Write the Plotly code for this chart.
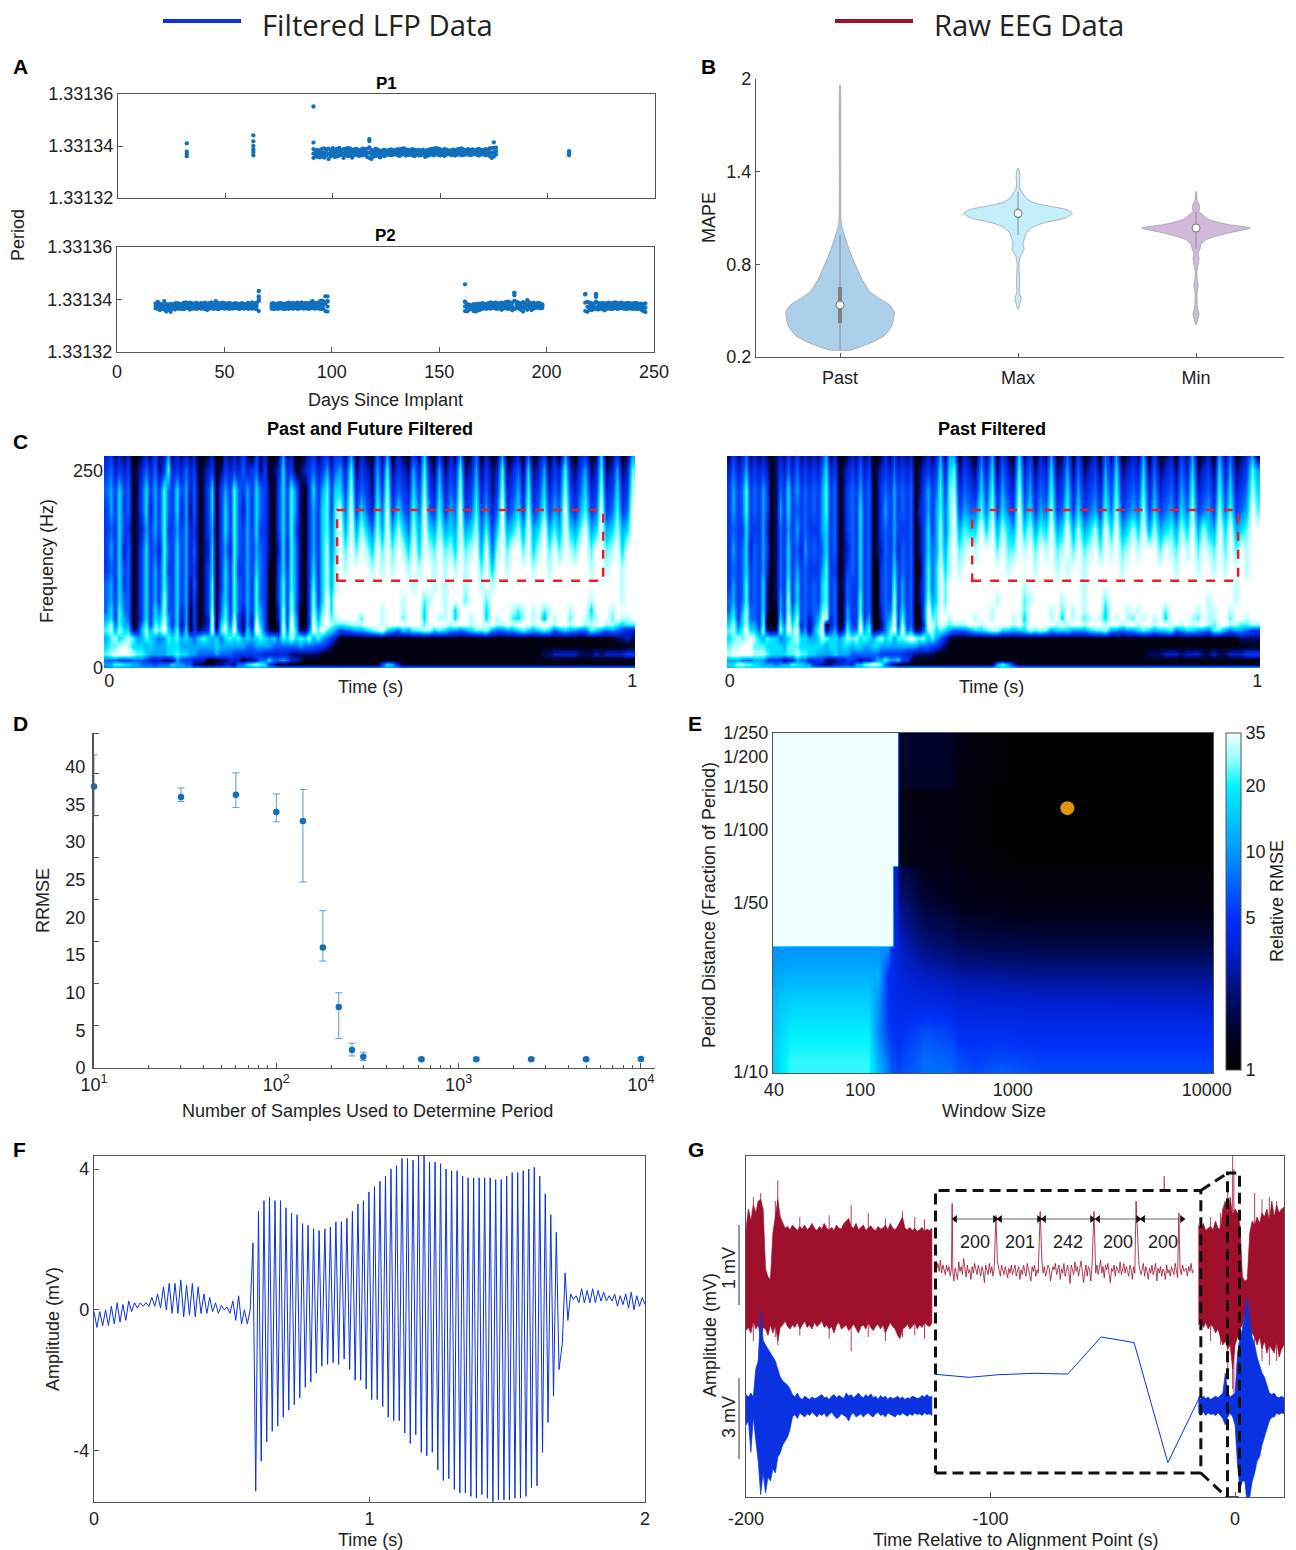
import math
import plotly.graph_objects as go

W, H = 1296, 1550
FONT = "Liberation Sans"
TXT = "#222222"
AXC = "#555555"
DOT = "#1170bd"
BLUE = "#0a32e0"
RED = "#9e102c"

# ---------- Panel A (offsets from 1.33134 in units of 1e-6)
A_base = 1.33134
P1_days = list(range(91, 177))
P1_hi = [-1.2,-1.8,-1.5,-1.9,-1.1,-0.9,-1.3,-1.0,-1.7,-0.8,-1.4,-1.1,-0.7,-1.6,-1.2,-1.0,-0.8,-0.9,-1.5,-1.3,-1.1,-1.6,-1.4,-1.0,-1.2,-1.1,-0.5,-1.5,-1.8,-1.0,-1.4,-2.0,-1.7,-1.5,-1.9,-1.6,-1.3,-1.5,-1.8,-1.2,-1.4,-1.1,-0.9,-1.3,-1.5,-1.6,-1.2,-1.4,-1.7,-1.5,-1.8,-1.4,-1.9,-1.6,-1.3,-1.2,-1.0,-0.8,-0.9,-1.3,-1.6,-1.2,-1.5,-1.8,-1.7,-1.4,-1.6,-1.3,-1.1,-0.9,-1.4,-1.6,-1.2,-1.5,-1.3,-1.7,-1.4,-1.1,-1.5,-1.6,-1.2,-1.4,-0.9,-0.8,-0.7,-0.6]
P1_lo = [-4.6,-3.9,-4.2,-4.4,-3.8,-4.5,-3.6,-5.0,-4.1,-3.5,-4.2,-4.0,-3.7,-3.4,-4.6,-3.5,-3.9,-3.6,-4.5,-3.5,-3.3,-3.8,-3.7,-3.6,-3.4,-4.2,-4.6,-5.0,-4.1,-3.8,-3.7,-4.4,-3.6,-3.9,-3.5,-3.3,-3.6,-3.4,-3.2,-3.5,-3.8,-3.4,-3.1,-3.7,-3.5,-3.3,-3.6,-3.9,-3.4,-3.7,-3.5,-3.3,-4.2,-3.8,-3.5,-3.3,-3.6,-3.2,-3.4,-3.7,-3.5,-3.8,-3.3,-3.1,-3.5,-3.4,-3.7,-3.3,-3.2,-3.6,-3.4,-3.3,-3.2,-3.6,-3.3,-3.1,-3.4,-3.7,-3.3,-3.2,-3.6,-3.4,-3.8,-4.6,-4.0,-3.3]
P1_extra_days = [32,32,32,32,63,63,63,63,63,63,91,91,117,117,175,210,210,210]
P1_extra_vals = [1,-2.2,-3,-3.9,4.1,1.8,0,-1.3,-2.3,-3.6,15.2,1.3,2.6,1.9,1.4,-2,-2.8,-3.6]

P2_days = list(range(18,67)) + list(range(72,99)) + list(range(162,199)) + list(range(218,247))
P2_hi = [-1.5,-0.9,-1.6,-1.9,-0.6,-1.8,-2.0,-1.7,-1.9,-1.5,-1.4,-1.6,-1.8,-1.3,-1.1,-1.4,-1.2,-1.5,-1.6,-1.3,-1.7,-1.4,-1.5,-1.2,-1.7,-1.4,-1.1,-1.5,-0.6,-1.3,-1.6,-1.2,-1.4,-1.6,-1.3,-1.5,-1.7,-1.4,-1.6,-1.8,-1.4,-1.6,-1.9,-1.3,-1.5,-1.1,-1.6,-1.2,3.2,
       -1.6,-1.4,-1.8,-1.5,-1.3,-1.6,-1.7,-1.4,-1.2,-1.5,-1.3,-1.6,-1.2,-1.4,-1.1,-1.6,-1.3,-1.5,-1.2,-0.6,-1.3,-1.5,-1.0,-0.4,-0.6,1.2,-0.8,
       -0.9,-1.8,-2.0,-2.2,-1.8,-1.9,-1.6,-1.8,-1.4,-1.6,-1.7,-1.4,-1.1,-1.5,-1.2,-1.3,-1.6,-1.2,-1.4,-1.0,-0.8,-1.1,-1.3,2.5,-0.9,-1.2,-1.6,-1.0,-1.3,-0.2,-1.1,-1.6,-1.2,-1.7,-1.3,-1.5,-1.9,
       2.0,-0.9,-1.2,-1.5,-1.6,2.0,-1.4,-1.5,-1.3,-1.6,-1.4,-1.2,-1.5,-1.3,-1.1,-1.4,-1.3,-1.2,-1.6,-1.4,-1.3,-1.5,-1.6,-1.3,-1.4,-1.7,-1.6,-1.8,-1.5]
P2_lo = [-3.4,-3.6,-4.0,-3.5,-3.8,-4.6,-3.9,-4.7,-3.5,-3.8,-3.4,-3.6,-3.5,-3.7,-3.4,-3.3,-3.8,-3.5,-3.4,-3.6,-3.3,-3.5,-3.4,-3.7,-4.0,-3.5,-3.3,-3.6,-3.4,-3.7,-3.4,-3.2,-3.5,-3.3,-3.6,-3.4,-3.5,-3.2,-3.4,-3.6,-3.3,-3.5,-3.3,-3.6,-3.4,-3.5,-3.3,-3.7,-4.4,
       -3.5,-3.7,-3.4,-3.6,-3.3,-3.5,-3.7,-3.4,-3.6,-3.3,-3.5,-3.2,-3.6,-3.4,-3.2,-3.5,-3.3,-3.6,-3.4,-3.2,-3.5,-3.3,-3.5,-3.7,-3.4,-4.4,-4.6,
       -4.4,-4.5,-3.8,-3.5,-4.4,-4.6,-4.2,-3.9,-3.6,-3.4,-3.6,-3.3,-3.5,-3.2,-3.4,-3.6,-3.4,-3.9,-3.5,-3.3,-3.6,-3.4,-4.1,-3.6,-3.3,-3.5,-3.9,-4.6,-3.4,-3.9,-3.3,-4.0,-3.5,-3.2,-3.0,-3.4,-3.2,
       -4.4,-4.7,-3.9,-4.0,-3.7,-3.6,-3.8,-3.5,-3.7,-4.1,-3.6,-3.4,-3.7,-3.5,-3.3,-3.6,-3.4,-3.3,-3.5,-3.7,-3.5,-3.4,-3.6,-3.4,-3.7,-3.5,-3.9,-4.4,-4.8]
P2_extra_days = [66,66,66,98,98,162,162,185,185,218,223,223]
P2_extra_vals = [3.2,1.2,0.2,1.2,-0.5,5.8,-0.8,2.5,1.6,2.0,2.0,1.0]

# ---------- Panel B (half widths in category units)
B_names = ["Past", "Max", "Min"]
B_past_y = [0.245,0.26,0.30,0.34,0.40,0.45,0.485,0.53,0.57,0.62,0.70,0.80,0.90,1.00,1.05,1.10,1.40,1.96]
B_past_w = [0.06,0.10,0.19,0.25,0.29,0.30,0.305,0.285,0.235,0.17,0.125,0.085,0.05,0.022,0.009,0.005,0.004,0.001]
B_max_y = [0.51,0.55,0.58,0.62,0.70,0.80,0.85,0.90,0.93,0.96,1.00,1.04,1.07,1.10,1.13,1.155,1.18,1.20,1.23,1.27,1.29,1.33,1.37,1.40,1.42]
B_max_w = [0.002,0.012,0.017,0.007,0.009,0.005,0.012,0.034,0.028,0.034,0.045,0.08,0.15,0.265,0.305,0.27,0.16,0.085,0.045,0.022,0.011,0.009,0.011,0.007,0.001]
B_min_y = [0.41,0.45,0.48,0.51,0.55,0.62,0.66,0.72,0.76,0.80,0.84,0.87,0.90,0.93,0.96,1.00,1.035,1.06,1.09,1.12,1.14,1.16,1.19,1.21,1.27]
B_min_w = [0.001,0.012,0.017,0.009,0.006,0.006,0.012,0.005,0.005,0.012,0.017,0.012,0.022,0.028,0.057,0.17,0.305,0.17,0.073,0.04,0.017,0.02,0.017,0.006,0.002]
B_med = [0.537,1.13,1.035]
B_q1 = [0.42,1.10,1.02]
B_q3 = [0.653,1.16,1.05]
B_wlo = [0.245,0.99,0.90]
B_whi = [0.99,1.27,1.14]
B_cols = ["#add0ea","#c4eefa","#d2b9dc"]

# ---------- Panel C (colour levels 0-9: 53 early columns, then 57 late columns)
C_freq = [267,249,224,199,174,149,123,105,86,73,63,55,48,38,28,18,10,5,0]
C_split = [0.44, 0.42]
C1_rows = [
"2312120012 1312512121 2001200212 1310312001 5120012312 313 3150210415 0210316103 0215014020 1501204013 0205102301 6013015",
"3423230124 2413723242 3012301323 2423413012 6230123423 524 5271321527 1321527215 1327125131 2712416125 1327213512 7125127",
"4536340136 3537436352 4013603537 4353643103 6374103635 736 6382431638 2432638326 2438236241 3823527236 2438324623 8236238",
"3536340136 2537436251 4013603637 4253643103 6374103536 737 8493642749 3643749437 3549347352 4934638347 3549435734 9347349",
"3436330125 3537335352 3013503637 4353633103 6373103536 747 9595864859 5864859658 5659568473 6956859569 5759657956 9568569",
"3536240136 3427436352 4012603527 4353543102 6274103536 847 9797986979 7986969879 7869789594 8979979689 7979879979 9789699",
"3436340136 3537336352 3013603637 3353643003 6374103636 858 9899998989 8998989989 8989899796 9989999899 8999999989 9899899",
"4536340136 3537436351 4013703637 4353743003 7374103736 858 9999999999 9999899989 8999899898 9999999999 9999999999 9999899",
"4536440136 3538436351 3013704637 4353743003 7384103836 969 9999999999 9989997899 8999799979 9999999999 9999999989 9999899",
"4637440136 3648436250 3013804737 4253753002 8384003847 969 9999999989 9989996999 8969999969 9998789897 8999899969 9989999",
"5637540136 3658536250 3012905738 3152853002 8395003958 978 9999799989 9979996998 8969989969 8997689895 9899799878 9979889",
"6847550147 3769536150 3012906849 3152963001 9395003968 987 7788899989 9999997999 9899989989 8898999899 9899899889 9887677",
"7858661258 5879647260 3123917859 4163973101 9496114979 765 3445567896 5465778867 6554567785 4455676567 6456554476 5454322",
"5786787557 6545767565 4676564676 7565676564 7686768575 432 0000000000 0000000000 0000000000 0000000000 0000000000 0001121",
"6778986665 6555666555 5555565555 5544555544 4444544433 210 0000000000 0000000000 0000000000 0000000000 0000000000 0000000",
"7899998776 5555667665 5444454443 3333332222 2211111110 000 0000000000 0000000000 0000000000 0000000001 1222221112 1222233",
"4443334443 2221115333 2220001122 2011244644 5422100000 000 0000000000 0000000000 0000000000 0000000000 0000000000 0000000",
"5577665544 4344465544 1100011221 4467876320 0000000000 000 0000000036 5200000000 0000000000 0000000000 0000000000 0000000",
"4555555555 5555555555 5555555555 5555555555 5555555555 555 5555555555 5555555555 5555555555 5555555555 5555555555 5555555",
]
C2_rows = [
"1312412121 0121313121 2135120012 1312001213 1212001212 515 5021041503 1061302150 1403012041 5012150301 2031501205 1401251",
"2423523232 0132424232 3246230123 2423012324 2323012323 626 7132152614 2172413261 2514123152 6123261412 3142612316 2512375",
"3534734353 0143635343 4357340134 3534013435 3434013534 737 8243263725 3283524372 3625234263 7234372523 4253723427 3623486",
"3534734353 0153634343 4357340134 3634013535 3434023535 747 9354474836 4394635483 4736345374 8345483634 5364834538 4734597",
"3433633352 0143535343 3356340134 3634013435 3334013635 847 9576696958 6596857695 6958568596 9568695856 7586958659 6956799",
"3534624353 0143634253 4346340124 3634012435 2434013645 858 9789899979 7798979897 8979789798 9789899979 8798979879 7979899",
"3434634352 0143635343 3357330134 3634003436 3434003746 968 9899999999 8999989998 9899899999 9899999999 9899989989 8999899",
"3534734361 0143736343 4367340143 3634003437 3534013746 979 9999999999 9998999999 9999899999 9999999999 9999999999 9989999",
"4534734361 0153836343 4367340143 3734003438 3534013856 979 9999999989 9997899999 8999899979 9999999999 9999999899 9989999",
"4635844361 0053847343 4478340153 3734002448 3634003967 989 9999999899 9997999989 7989899969 9989899997 9999989889 9899999",
"5736844370 0063958342 4589240153 3835002459 3734003977 998 9999899899 9896999989 6989789869 8987989896 9999879889 9799899",
"6846855370 0074968241 4690240163 3946001469 3834002987 987 8889989999 9897999998 9899899989 9899899899 8989899879 9887788",
"7857966481 1185979351 5791351274 4957112479 4945113886 765 4445667886 6566878756 6655567785 5455676566 7456655477 5455433",
"6787898657 6645678665 5687665687 8676578675 7789878575 421 0000000000 0000000000 0000000000 0000000000 0000000000 0001111",
"7889997776 6665777666 6665665665 6655665555 5555544433 210 0000000000 0000000000 0000000000 0000000000 0000000000 0000000",
"8999998887 6666778776 6555565554 4444443333 3322111110 000 0000000000 0000000000 0000000000 0000001112 2212221121 1222333",
"5554445553 3331225442 3331112233 2122355755 6331000000 000 0000000000 0000000000 0000000000 0000000000 0000000000 0000000",
"6688776655 5455576655 2211122332 5578987421 0000000000 000 0000000057 5200000000 0000000000 0000000000 0000000000 0000000",
"5666666666 6666666666 6666666666 6666666666 6666666666 666 6666666666 6666666666 6666666666 6666666666 6666666666 6666666",
]
C_levels = [(0,"#000010"),(0.11,"#000a60"),(0.22,"#0020d0"),(0.33,"#0038f0"),(0.44,"#0060ff"),(0.55,"#00a8ff"),(0.7,"#00f0ff"),(0.85,"#a0ffff"),(1,"#ffffff")]

# ---------- Panel D
D_n = [10,30,60,100,140,180,220,260,300,625,1250,2500,5000,10000]
D_y = [37.4,36.0,36.3,34.0,32.8,16.0,8.1,2.4,1.5,1.15,1.15,1.15,1.15,1.2]
D_hi = [41.6,37.2,39.2,36.4,37.0,20.9,10.0,3.3,2.1,1.35,1.35,1.35,1.35,1.4]
D_lo = [33.5,35.4,34.6,32.7,24.7,14.2,3.9,1.6,1.0,1.0,1.0,1.0,1.0,1.0]
D_tick_marks = [5.585,11.17,16.755,22.34,27.925,33.51,39.095,44.5]

# ---------- Panel E
E_x_pos = [0,.039,.216,.239,.261,.27,.275,.282,.286,.345,.402,.42,.459,.516,.607,1]
E_y_pos = [0,.038,.126,.215,.288,.371,.376,.509,.606,.612,.656,.832,.841,1]
E_rmse = [
[15,22,22,13,8,6.5,6.5,6,6,7.5,7.5,6.5,6,7,6,6],
[15,22,22,12,7.5,6,6,5.5,5.5,7.5,7,6,5.5,6,5.5,5.5],
[14,19,19,9,5.5,5,5,4.8,4.8,6,5.5,4.6,4.6,4.6,4.4,4.4],
[13,15,15,10,5,4.6,4.5,4.3,4.2,4.0,3.8,3.6,3.6,3.5,3.4,3.3],
[11,12,12,12,5,4.6,4.4,4,3.8,3.2,3.0,2.8,2.8,2.7,2.6,2.6],
[9.5,9.5,9.5,9.5,9.5,4.3,4.2,4,3.4,2.4,2.1,2.0,1.9,1.85,1.8,1.8],
[35,35,35,35,35,35,4.2,4,3.4,2.3,2.1,1.9,1.85,1.8,1.75,1.75],
[35,35,35,35,35,35,3.8,3.8,2.4,1.6,1.45,1.35,1.3,1.25,1.2,1.2],
[35,35,35,35,35,35,3.4,3.4,1.9,1.35,1.3,1.25,1.15,1.1,1.08,1.08],
[35,35,35,35,35,35,35,35,1.3,1.3,1.25,1.2,1.12,1.08,1.05,1.05],
[35,35,35,35,35,35,35,35,1.25,1.25,1.2,1.15,1.1,1.05,1.03,1.03],
[35,35,35,35,35,35,35,35,1.25,1.22,1.2,1.15,1.08,1.03,1,1],
[35,35,35,35,35,35,35,35,1.5,1.5,1.5,1.2,1.12,1.05,1,1],
[35,35,35,35,35,35,35,35,1.55,1.55,1.55,1.25,1.15,1.05,1,1],
]
E_cb_ticks = [1,5,10,20,35]
E_best = (.669, .779)

# ---------- Panel F
F_pre = [-0.05,-0.5,-0.05,-0.45,0,-0.45,0.1,-0.4,0.2,-0.35,0.15,-0.3,0.25,-0.05,0.2,0.05,0.2,0.1,0.2,0.1,0.35,0.1,0.45,0.05,0.65,0,0.75,-0.1,0.75,-0.1,0.85,-0.2,0.7,-0.15,0.75,-0.2,0.65,-0.1,0.45,-0.1,0.35,-0.05,0.2,-0.1,0.12,0,0.08,-0.1,0.25,-0.3,0.4,-0.4,0,-0.4,0]
F_pre_step = 0.0105
F_peak_t = [0.577,0.597,0.617,0.637,0.657,0.677,0.697,0.717,0.737,0.757,0.777,0.797,0.817,0.838,0.858,0.878,0.898,0.918,0.938,0.958,0.978,0.998,1.018,1.038,1.058,1.078,1.098,1.118,1.138,1.158,1.178,1.198,1.218,1.238,1.258,1.278,1.298,1.318,1.338,1.358,1.378,1.398,1.418,1.438,1.458,1.478,1.498,1.518,1.538,1.558,1.578,1.598,1.618,1.638,1.658,1.678]
F_peak = [1.9,2.8,3.1,3.2,3.1,3.1,2.9,2.75,2.7,2.45,2.4,2.3,2.25,2.3,2.35,2.5,2.5,2.6,2.8,3.0,3.1,3.35,3.5,3.65,3.8,4.0,4.1,4.3,4.3,4.25,4.4,4.4,4.2,4.2,4.15,4.0,3.95,3.95,3.8,3.75,3.75,3.75,3.75,3.75,3.7,3.7,3.8,3.9,3.9,3.95,4.0,4.05,3.8,3.3,2.7,2.2]
F_trough = [-5.15,-4.3,-3.75,-3.45,-3.3,-3.05,-2.85,-2.7,-2.5,-2.2,-2.05,-1.8,-1.6,-1.55,-1.5,-1.55,-1.4,-1.7,-2,-2,-2.25,-2.55,-2.55,-2.75,-3.05,-3.15,-3.15,-3.5,-3.8,-3.55,-4.05,-4.15,-4.05,-4.55,-4.85,-4.8,-5.1,-5.2,-5.2,-5.3,-5.35,-5.25,-5.35,-5.45,-5.4,-5.4,-5.4,-5.35,-5.35,-5.3,-5.05,-5,-4.05,-3.2,-2.45,-1.7]
F_post_t = [1.70,1.71,1.72,1.73,1.74,1.75,1.76,1.77,1.78,1.79,1.80,1.81,1.82,1.83,1.84,1.85,1.86,1.87,1.88,1.89,1.90,1.91,1.92,1.93,1.94,1.95,1.96,1.97,1.98,1.99,2.00]
F_post = [-0.95,1.05,-0.3,0.45,0.3,0.4,0.2,0.6,0.2,0.55,0.2,0.6,0.2,0.55,0.25,0.5,0.25,0.4,0.25,0.45,0.1,0.4,0.15,0.45,0.05,0.5,0,0.4,0.1,0.35,0.15]

# ---------- Panel G (y in arbitrary offset units)
G_left_x = list(range(-200,-123))
G_rL_hi = [3.35,3.6,3.45,3.65,3.55,3.7,3.72,3.6,2.85,2.75,2.72,3.3,3.5,3.72,3.5,3.42,3.36,3.38,3.34,3.4,3.36,3.33,3.38,3.35,3.4,3.34,3.37,3.42,3.36,3.33,3.38,3.35,3.42,3.36,3.34,3.37,3.33,3.4,3.36,3.35,3.42,3.45,3.48,3.38,3.36,3.42,3.34,3.37,3.4,3.33,3.36,3.39,3.35,3.33,3.38,3.35,3.36,3.4,3.34,3.42,3.36,3.34,3.38,3.45,3.5,3.36,3.34,3.37,3.33,3.36,3.32,3.34,3.37,3.32,3.35,3.33,3.36]
G_rL_lo = [2.08,2.12,2.05,2.2,2.1,2.15,2.0,2.12,2.1,2.02,2.15,2.05,2.15,1.95,2.12,2.15,2.2,2.13,2.1,2.15,2.12,2.18,2.1,2.15,2.2,2.12,2.15,2.1,2.18,2.13,2.16,2.2,2.12,2.15,2.1,2.13,2.05,2.15,2.18,2.1,2.13,2.15,2.08,2.12,2.16,2.1,2.05,2.13,2.15,2.1,2.18,2.12,2.08,2.13,2.16,2.1,2.15,2.05,2.12,2.18,2.13,2.1,2.02,1.98,2.1,2.12,2.16,2.1,2.13,2.18,2.1,2.15,2.12,2.18,2.15,2.13,2.17]
G_right_x = list(range(-15,21))
G_rR_hi = [3.4,3.35,3.42,3.33,3.36,3.38,3.34,3.45,3.36,3.35,3.6,3.7,3.55,3.75,3.5,3.6,3.55,3.4,2.75,2.7,2.72,3.3,3.45,3.4,3.5,3.42,3.55,3.5,3.6,3.45,3.7,3.5,3.65,3.55,3.6,3.62]
G_rR_lo = [2.15,2.2,2.12,2.18,2.1,2.15,2.13,2.05,2.1,2.0,1.9,1.95,1.85,1.9,1.6,1.9,2.0,2.1,2.15,2.3,2.2,2.1,2.05,2.0,1.9,2.0,1.85,1.95,1.8,1.9,1.85,1.8,1.95,1.75,1.85,1.9]
G_red_spike_x = [-187,-157,-136,-3,-1,-0.5,-188,-197,-194,-178,-166,-150,-143,-131,-127,8,11,14,17,-10,-6]
G_red_spike_top = [3.96,3.65,3.57,3.95,4.26,4.1,3.7,3.75,3.8,3.5,3.52,3.55,3.48,3.5,3.47,3.8,3.72,3.75,3.7,3.5,3.55]
G_red_spike_bot = [1.9,1.82,2.0,1.5,1.35,1.3,2.0,1.95,1.98,2.02,1.98,2.0,1.95,2.02,1.98,1.6,1.7,1.65,1.7,1.95,1.9]
G_inset_red_x = [-122,-121.5,-121,-120.5,-120,-119.5,-119,-118.5,-118,-117.5,-117,-116.5,-116,-115.7,-115.4,-115,-114.5,-114,-113.5,-113,-112.5,-112,-111.5,-111,-110.5,-110,-109.5,-109,-108.5,-108,-107.5,-107,-106.5,-106,-105.5,-105,-104.5,-104,-103.5,-103,-102.5,-102,-101.5,-101,-100.5,-100,-99.5,-99,-98.5,-97.8,-97.2,-96.5,-96,-95.5,-95,-94.5,-94,-93.5,-93,-92.5,-92,-91.5,-91,-90.5,-90,-89.5,-89,-88.5,-88,-87.5,-87,-86.5,-86,-85.5,-85,-84.5,-84,-83.5,-83,-82.5,-82,-81.5,-81,-80.5,-79.7,-79,-78.5,-78,-77.5,-77,-76.5,-76,-75.5,-75,-74.5,-74,-73.5,-73,-72.5,-72,-71.5,-71,-70.5,-70,-69.5,-69,-68.5,-68,-67.5,-67,-66.5,-66,-65.5,-65,-64.5,-64,-63.5,-63,-62.5,-62,-61.5,-61,-60.5,-60,-59.5,-59,-58.5,-57.7,-57,-56.5,-56,-55.5,-55,-54.5,-54,-53.5,-53,-52.5,-52,-51.5,-51,-50.5,-50,-49.5,-49,-48.5,-48,-47.5,-47,-46.5,-46,-45.5,-45,-44.5,-44,-43.5,-43,-42.5,-42,-41.5,-41,-40.5,-39.3,-38.5,-38,-37.5,-37,-36.5,-36,-35.5,-35,-34.5,-34,-33.5,-33,-32.5,-32,-31.5,-31,-30.5,-30,-29.5,-29,-28.5,-28,-27.5,-27,-26.5,-26,-25.5,-25,-24.5,-24,-23.5,-23,-22.5,-22,-21.5,-20.9,-20,-19.5,-19,-18.5,-18,-17.5,-17,-16.5,-16,-15.5,-15]
G_inset_red = [2.85,2.92,2.82,2.96,2.8,2.9,2.84,2.78,2.9,2.82,2.88,2.76,2.86,3.67,2.8,2.7,2.86,2.8,2.72,2.94,2.82,2.88,2.78,2.98,2.83,2.75,2.9,2.8,2.84,2.72,2.88,2.8,2.92,2.82,2.78,2.9,2.84,2.76,2.88,2.82,2.68,2.9,2.84,2.78,2.92,2.8,2.88,2.76,2.86,3.52,2.95,2.82,2.76,2.9,2.85,2.78,2.88,2.82,2.74,2.86,2.8,2.9,2.78,2.84,2.9,2.76,2.84,2.88,2.72,2.84,2.78,2.9,2.82,2.76,2.92,2.84,2.8,2.7,2.88,2.82,2.9,2.76,2.84,2.8,3.57,2.95,2.8,2.88,2.76,2.82,2.9,2.86,2.7,2.8,2.88,2.84,2.92,2.78,2.84,2.9,2.72,2.85,2.8,2.92,2.76,2.84,2.9,2.82,2.67,2.9,2.84,2.78,2.94,2.82,2.88,2.76,2.86,2.95,2.82,2.68,2.8,2.9,2.76,2.88,2.84,2.7,2.9,3.57,2.8,2.9,2.78,2.86,2.96,2.8,2.88,2.74,2.9,2.84,2.92,2.78,2.68,2.86,2.82,2.9,2.76,2.88,2.84,2.8,2.94,2.78,2.85,2.92,2.8,2.88,2.82,2.76,2.9,2.84,2.72,2.88,2.8,3.7,2.9,2.78,2.84,2.92,2.76,2.88,2.82,2.72,2.86,2.8,2.9,2.78,2.84,2.92,2.7,2.86,2.8,2.88,2.76,2.85,2.82,2.72,2.9,2.8,2.84,2.76,2.88,2.82,2.78,2.92,2.84,2.74,3.55,2.85,2.78,2.9,2.82,2.86,2.76,2.88,2.82,2.92,2.8,2.84]
G_tick_x = [-29,-29]
G_tick_y = [3.83,4.01]
G_bL_hi = [1.28,1.25,1.3,1.25,1.6,1.7,2.33,1.96,1.9,1.85,1.8,1.75,1.7,1.6,1.5,1.45,1.42,1.4,1.35,1.28,1.25,1.3,1.24,1.22,1.26,1.24,1.22,1.25,1.23,1.24,1.26,1.28,1.24,1.25,1.22,1.26,1.28,1.24,1.27,1.25,1.23,1.3,1.26,1.28,1.24,1.27,1.3,1.26,1.24,1.28,1.25,1.29,1.24,1.26,1.22,1.27,1.24,1.26,1.22,1.25,1.23,1.24,1.26,1.23,1.25,1.22,1.24,1.23,1.26,1.25,1.23,1.24,1.27,1.25,1.28,1.25,1.26]
G_bL_lo = [0.9,0.95,0.56,1.0,0.71,0.45,0.03,0.3,0.05,0.25,0.2,0.35,0.3,0.5,0.55,0.65,0.7,0.75,0.85,1.0,1.03,0.98,1.05,1.03,1.0,1.04,1.02,1.06,1.03,1.0,1.04,1.02,1.05,1.0,1.03,1.06,1.02,0.98,1.0,1.04,1.02,1.0,0.95,1.03,1.05,1.0,1.02,1.04,1.0,1.03,1.05,1.02,1.0,1.04,1.06,1.02,1.03,1.0,1.05,1.03,1.02,1.0,1.04,1.02,1.05,1.03,1.01,1.04,1.02,1.05,1.03,1.04,1.02,1.05,1.03,1.04,1.02]
G_bR_hi = [1.25,1.22,1.26,1.23,1.25,1.22,1.24,1.26,1.24,1.27,1.3,1.55,1.3,1.25,1.28,1.3,1.8,2.0,2.1,2.3,2.5,2.2,2.0,1.9,1.75,1.65,1.55,1.5,1.4,1.3,1.28,1.3,1.25,1.24,1.26,1.24]
G_bR_lo = [1.05,1.03,1.06,1.02,1.05,1.03,1.04,1.02,1.05,1.02,0.98,0.9,1.0,1.05,1.0,0.9,0.4,0.1,0.2,0.2,-0.1,0,0.2,0.3,0.45,0.5,0.65,0.75,0.85,0.95,1.0,1.0,1.05,1.03,1.05,1.04]
G_inset_blue_x = [-122.4,-108.7,-96.5,-82.2,-68.4,-54.8,-41.3,-27.5,-14.1]
G_inset_blue = [1.533,1.496,1.529,1.546,1.537,2.0,1.93,0.429,1.275]
G_isi_start = [-114.5,-96.1,-78.1,-56,-37.6]
G_isi_end = [-98.2,-80.2,-58.5,-39.7,-21.7]
G_isi_label = ["200","201","242","200","200"]
G_arrow_y = 3.475
G_label_y = 3.19
G_box = (-122.5,-14,0.30,3.83)
G_zoom = (-3.1,1.8,-0.01,4.05)

# ---------- helpers
def xd(a, b): return [a/W, b/W]
def yd(t, b): return [1-b/H, 1-t/H]

fig = go.Figure()
ann = []
shapes = []

def text(px, py, s, size=18, rot=0, bold=False, color=TXT, family=FONT, anchor="center"):
    ann.append(dict(x=px/W, y=1-py/H, xref="paper", yref="paper", text=("<b>%s</b>" % s) if bold else s,
                    showarrow=False, textangle=rot, xanchor=anchor, yanchor="middle",
                    font=dict(size=size, color=color, family=family)))

def axis(dom, rng, box=True, tv=None, tt=None, ticks="inside", tlen=5, **kw):
    d = dict(domain=dom, range=rng, showgrid=False, zeroline=False, showline=True, linecolor=AXC, linewidth=1.2,
             mirror=box, ticks=ticks, ticklen=tlen, tickcolor=AXC, tickwidth=1, automargin=False,
             tickfont=dict(family=FONT, size=18, color=TXT))
    if tv is not None:
        d.update(tickmode="array", tickvals=tv, ticktext=tt if tt is not None else [str(v) for v in tv])
    d.update(kw)
    return d

layout = {}

# ---- A
A_ticks = [1.33132, 1.33134, 1.33136]
A_tt = ["1.33132", "1.33134", "1.33136"]
def A_conv(v): return [A_base + x*1e-6 for x in v]
dotm = dict(color=DOT, size=4.3)
for xa, ya, days, hi, lo, ed, ev in [("x","y",P1_days,P1_hi,P1_lo,P1_extra_days,P1_extra_vals),
                                     ("x2","y2",P2_days,P2_hi,P2_lo,P2_extra_days,P2_extra_vals)]:
    mid = [(a+b)/2 for a, b in zip(hi, lo)]
    xs = list(days)*3 + ed
    ys = A_conv(hi) + A_conv(lo) + A_conv(mid) + A_conv(ev)
    fig.add_trace(go.Scatter(x=xs, y=ys, mode="markers", marker=dotm, xaxis=xa, yaxis=ya, showlegend=False))
layout["xaxis"] = axis(xd(118,655), [0,250], tv=[0,50,100,150,200,250], showticklabels=False, anchor="y")
layout["yaxis"] = axis(yd(94,198), [1.33132,1.33136], tv=A_ticks, tt=A_tt, anchor="x")
layout["xaxis2"] = axis(xd(117,654), [0,250], tv=[0,50,100,150,200,250], anchor="y2", ticklabelstandoff=3)
layout["yaxis2"] = axis(yd(247,352), [1.33132,1.33136], tv=A_ticks, tt=A_tt, anchor="x2")
text(386,83,"P1",17,bold=True,color="#000")
text(385,235,"P2",17,bold=True,color="#000")
text(18,235,"Period",18,rot=-90)
text(385,400,"Days Since Implant",18)

# ---- B
for i, (yy, ww) in enumerate([(B_past_y,B_past_w),(B_max_y,B_max_w),(B_min_y,B_min_w)]):
    c = i+1
    xs = [c+w for w in ww] + [c-w for w in reversed(ww)] + [c+ww[0]]
    ys = list(yy) + list(reversed(yy)) + [yy[0]]
    fig.add_trace(go.Scatter(x=xs, y=ys, mode="lines", fill="toself", fillcolor=B_cols[i],
                             line=dict(color="#9aa0a6", width=0.8, shape="spline", smoothing=0.6), xaxis="x3", yaxis="y3", showlegend=False))
    fig.add_trace(go.Scatter(x=[c,c], y=[B_wlo[i],B_whi[i]], mode="lines", line=dict(color="#8a8a8a", width=1),
                             xaxis="x3", yaxis="y3", showlegend=False))
    fig.add_trace(go.Scatter(x=[c,c], y=[B_q1[i],B_q3[i]], mode="lines", line=dict(color="#7f7f7f", width=4),
                             xaxis="x3", yaxis="y3", showlegend=False))
    fig.add_trace(go.Scatter(x=[c], y=[B_med[i]], mode="markers", marker=dict(color="white", size=8, line=dict(color="#777", width=1)),
                             xaxis="x3", yaxis="y3", showlegend=False))
layout["xaxis3"] = axis(xd(756,1284), [0.528,3.494], box=False, tv=[1,2,3], tt=B_names, anchor="y3", ticks="inside", tlen=4, ticklabelstandoff=4)
layout["yaxis3"] = axis(yd(79,357), [0.2,2], box=False, tv=[0.2,0.8,1.4,2], tt=["0.2","0.8","1.4","2"], anchor="x3", ticks="inside", tlen=4)
text(709,218,"MAPE",18,rot=-90)

# ---- C
def levels(rows):
    return [[int(ch) for ch in r.replace(" ","")] for r in rows]
for rows, xa, ya, split in [(C1_rows,"x4","y4",C_split[0]),(C2_rows,"x5","y5",C_split[1])]:
    z = levels(rows)
    n = len(z[0])
    early = 53
    cols = [(i+0.5)/early*split for i in range(early)] + [split+(i+0.5)/(n-early)*(1-split) for i in range(n-early)]
    fig.add_trace(go.Heatmap(z=z, x=cols, y=C_freq, zmin=0, zmax=9, zsmooth="best",
                             colorscale=[list(s) for s in C_levels], showscale=False, hoverinfo="skip", xaxis=xa, yaxis=ya))
layout["xaxis4"] = axis(xd(104,635), [0,1], box=False, tv=[0.01,0.995], tt=["0","1"], anchor="y4", ticks="", showline=False)
layout["yaxis4"] = axis(yd(456,668), [0,267], box=False, tv=[0,249], tt=["0","250"], anchor="x4", ticks="", showline=False)
layout["xaxis5"] = axis(xd(727,1260), [0,1], box=False, tv=[0.005,0.995], tt=["0","1"], anchor="y5", ticks="", showline=False)
layout["yaxis5"] = axis(yd(456,668), [0,267], box=False, showticklabels=False, anchor="x5", ticks="", showline=False)
C_roi_t = 199
C_roi_b = 110
shapes.append(dict(type="rect", xref="x4", yref="y4", x0=0.439, x1=0.94, y0=C_roi_b, y1=C_roi_t, line=dict(color="#ee1c25", width=2.5, dash="dash")))
shapes.append(dict(type="rect", xref="x5", yref="y5", x0=0.46, x1=0.959, y0=C_roi_b, y1=C_roi_t, line=dict(color="#ee1c25", width=2.5, dash="dash")))
text(370,429,"Past and Future Filtered",18,bold=True,color="#000")
text(992,429,"Past Filtered",18,bold=True,color="#000")
text(47,561,"Frequency (Hz)",18,rot=-90)
text(370,687,"Time (s)",18)
text(991,687,"Time (s)",18)

# ---- D
fig.add_trace(go.Scatter(x=D_n, y=D_y, mode="markers", marker=dict(color=DOT, size=6.5),
                         error_y=dict(type="data", symmetric=False,
                                      array=[h-v for h, v in zip(D_hi,D_y)],
                                      arrayminus=[v-l for l, v in zip(D_lo,D_y)],
                                      color="#5b9bd5", thickness=1, width=3.5),
                         xaxis="x6", yaxis="y6", cliponaxis=False, showlegend=False))
layout["xaxis6"] = axis(xd(94,655), [1,4.077], box=False, type="log", tv=[10,100,1000,10000],
                        tt=["10<sup>1</sup>","10<sup>2</sup>","10<sup>3</sup>","10<sup>4</sup>"], anchor="y6",
                        minor=dict(ticks="inside", ticklen=3, tickcolor=AXC, tickvals=[20,30,40,50,60,70,80,90,200,300,400,500,600,700,800,900,2000,3000,4000,5000,6000,7000,8000,9000]))
layout["yaxis6"] = axis(yd(733,1068), [0,44.5], box=False, tv=list(range(0,45,5)), anchor="x6", ticks="", linewidth=2, ticklabelstandoff=3,
                        minor=dict(ticks="inside", ticklen=5, tickcolor=AXC, tickvals=D_tick_marks))
text(43,901,"RRMSE",18,rot=-90)
text(367,1111,"Number of Samples Used to Determine Period",18)

# ---- E
E_cs = [[0,"#000000"],[0.1,"#00001e"],[0.25,"#001080"],[0.35,"#0020d0"],[0.453,"#0030f8"],[0.648,"#0098ff"],[0.843,"#00f4ff"],[0.92,"#90ffff"],[1,"#f0ffff"]]
fig.add_trace(go.Heatmap(z=[[math.log10(v) for v in row] for row in E_rmse], x=E_x_pos, y=E_y_pos, zsmooth="best",
                         zmin=0, zmax=math.log10(35), colorscale=E_cs, hoverinfo="skip", xaxis="x7", yaxis="y7",
                         colorbar=dict(x=1226/W, xanchor="left", xref="paper", y=1-1070/H, yanchor="bottom", yref="paper",
                                       len=337/H, lenmode="fraction", thickness=15, outlinecolor=AXC, outlinewidth=1,
                                       xpad=0, ypad=0,
                                       tickmode="array", tickvals=[math.log10(v) for v in E_cb_ticks],
                                       ticktext=[str(v) for v in E_cb_ticks], ticks="", ticklabelposition="outside",
                                       tickfont=dict(family=FONT, size=18, color=TXT))))
fig.add_trace(go.Scatter(x=[E_best[0]], y=[E_best[1]], mode="markers", marker=dict(color="#df9410", size=14),
                         xaxis="x7", yaxis="y7", showlegend=False))
layout["xaxis7"] = axis(xd(773,1213), [0,1], tv=[0.002,0.198,0.545,0.986], tt=["40","100","1000","10000"], anchor="y7", ticks="")
layout["yaxis7"] = axis(yd(733,1073), [0,1], tv=[0.003,0.5,0.715,0.841,0.929,1], tt=["1/10","1/50","1/100","1/150","1/200","1/250"], anchor="x7", ticks="")
text(709,905,"Period Distance (Fraction of Period)",18,rot=-90)
text(994,1111,"Window Size",18)
text(1277,901,"Relative RMSE",18,rot=-90)

# ---- F
F_x = [i*F_pre_step for i in range(len(F_pre))]
F_y = list(F_pre)
for tp, p, tr in zip(F_peak_t, F_peak, F_trough):
    F_x += [tp, tp+0.01]
    F_y += [p, tr]
F_x += F_post_t
F_y += F_post
fig.add_trace(go.Scatter(x=F_x, y=F_y, mode="lines", line=dict(color=BLUE, width=1), xaxis="x8", yaxis="y8", showlegend=False))
layout["xaxis8"] = axis(xd(94,645), [0,2], tv=[0,1,2], anchor="y8")
layout["yaxis8"] = axis(yd(1156,1502), [-5.46,4.37], tv=[-4,0,4], anchor="x8")
text(53,1329,"Amplitude (mV)",18,rot=-90)
text(370,1540,"Time (s)",18)

# ---- G
def band(x, hi, lo, color):
    xs = list(x)+list(reversed(x))
    ys = list(hi)+list(reversed(lo))
    fig.add_trace(go.Scatter(x=xs, y=ys, mode="lines", fill="toself", fillcolor=color, line=dict(color=color, width=0.7),
                             xaxis="x9", yaxis="y9", showlegend=False))
band(G_left_x, G_rL_hi, G_rL_lo, RED)
band(G_right_x, G_rR_hi, G_rR_lo, RED)
sx, sy = [], []
for a, t, b in zip(G_red_spike_x, G_red_spike_top, G_red_spike_bot):
    sx += [a, a, None]; sy += [b, t, None]
fig.add_trace(go.Scatter(x=sx, y=sy, mode="lines", line=dict(color=RED, width=0.8), xaxis="x9", yaxis="y9", showlegend=False))
fig.add_trace(go.Scatter(x=G_inset_red_x, y=G_inset_red, mode="lines", line=dict(color=RED, width=0.8), xaxis="x9", yaxis="y9", showlegend=False))
fig.add_trace(go.Scatter(x=G_tick_x, y=G_tick_y, mode="lines", line=dict(color=RED, width=1), xaxis="x9", yaxis="y9", showlegend=False))
band(G_left_x, G_bL_hi, G_bL_lo, BLUE)
band(G_right_x, G_bR_hi, G_bR_lo, BLUE)
fig.add_trace(go.Scatter(x=G_inset_blue_x, y=G_inset_blue, mode="lines", line=dict(color=BLUE, width=1), xaxis="x9", yaxis="y9", showlegend=False))
for a, b, lab in zip(G_isi_start, G_isi_end, G_isi_label):
    fig.add_trace(go.Scatter(x=[a,b], y=[G_arrow_y,G_arrow_y], mode="lines+markers",
                             line=dict(color="#666", width=1),
                             marker=dict(symbol=["triangle-left","triangle-right"], size=7, color="#111"),
                             xaxis="x9", yaxis="y9", showlegend=False))
    ann.append(dict(x=(a+b)/2, y=G_label_y, xref="x9", yref="y9", text=lab, showarrow=False,
                    font=dict(family=FONT, size=18, color=TXT)))
x0,x1,y0,y1 = G_box
u0,u1,v0,v1 = G_zoom
dash = dict(color="#111", width=3, dash="11px,6px")
fig.add_trace(go.Scatter(x=[x0,x1,x1,x0,x0], y=[y0,y0,y1,y1,y0], mode="lines", line=dash, xaxis="x9", yaxis="y9", showlegend=False))
fig.add_trace(go.Scatter(x=[u0,u1,u1,u0,u0], y=[v0,v0,v1,v1,v0], mode="lines", line=dash, xaxis="x9", yaxis="y9", cliponaxis=False, showlegend=False))
fig.add_trace(go.Scatter(x=[x1,u0,None,x1,u0], y=[y1,v1,None,y0,v0], mode="lines", line=dash, xaxis="x9", yaxis="y9", cliponaxis=False, showlegend=False))
layout["xaxis9"] = axis(xd(746,1284), [-200,20], tv=[-200,-100,0], anchor="y9", ticklabelstandoff=5)
layout["yaxis9"] = axis(yd(1156,1497), [0,4.2625], showticklabels=False, ticks="", anchor="x9")
text(710,1335,"Amplitude (mV)",18,rot=-90)
text(729,1268,"1 mV",18,rot=-90)
text(729,1417,"3 mV",18,rot=-90)
text(1015,1540,"Time Relative to Alignment Point (s)",18)
for yt, yb in [(1225,1305),(1378,1459)]:
    shapes.append(dict(type="line", xref="paper", yref="paper", x0=739/W, x1=739/W, y0=1-yt/H, y1=1-yb/H, line=dict(color="#333", width=1)))

# ---- header and panel letters
for a, b, c in [(163,241,"#0a32e0"),(835,913,RED)]:
    shapes.append(dict(type="line", xref="paper", yref="paper", x0=a/W, x1=b/W, y0=1-21/H, y1=1-21/H, line=dict(color=c, width=4)))
text(377,25,"Filtered LFP Data",29.3,family="Open Sans")
text(1029,25,"Raw EEG Data",29.3,family="Open Sans")
for lab, px, py in [("A",20,67),("B",708,67),("C",20,441),("D",20,724),("E",695,724),("F",19,1149),("G",696,1149)]:
    text(px,py,lab,21,bold=True,color="#000")

fig.update_layout(width=W, height=H, margin=dict(l=0,r=0,t=0,b=0,autoexpand=False), paper_bgcolor="white", plot_bgcolor="white",
                  showlegend=False, annotations=ann, shapes=shapes, font=dict(family=FONT), **layout)
fig.write_html("out.html", post_script="document.body.style.margin='0';", config=dict(displayModeBar=False))
